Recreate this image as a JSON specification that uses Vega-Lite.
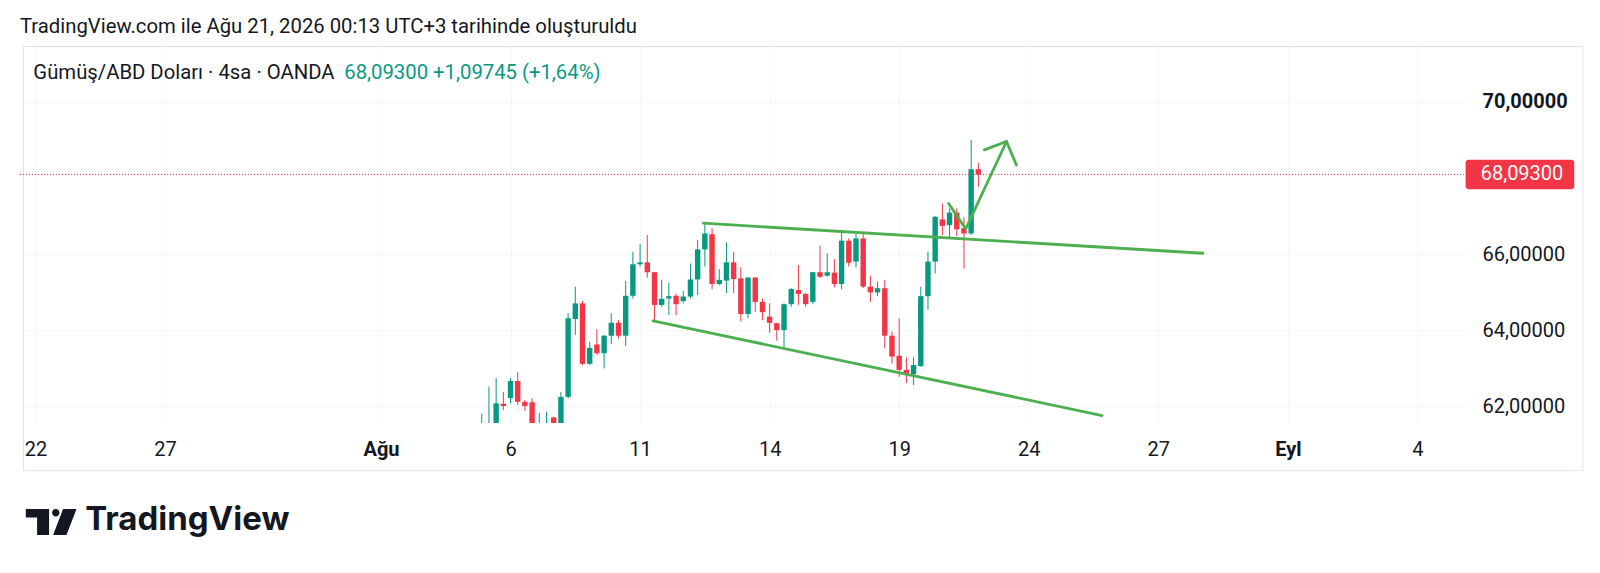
{
  "$schema": "https://vega.github.io/schema/vega-lite/v6.json",
  "autosize": {"type": "none"},
  "padding": {"left": 19, "top": 47, "right": 133, "bottom": 150},
  "width": 1448,
  "height": 376,
  "background": "white",
  "view": {"stroke": null},
  "title": {
    "text": "TradingView.com ile Ağu 21, 2026 00:13 UTC+3 tarihinde oluşturuldu",
    "anchor": "start",
    "frame": "group",
    "font": "Roboto",
    "fontSize": 20.3,
    "fontWeight": "normal",
    "color": "#131722",
    "baseline": "alphabetic",
    "offset": 14,
    "dx": 1,
    "dy": 21
  },
  "config": {
    "font": "Roboto",
    "axis": {"labelFont": "Roboto", "labelColor": "#131722", "labelFontSize": 20}
  },
  "datasets": {
    "candles": [
      {"c": 62, "o": 61.20, "h": 61.80, "l": 61.00, "cl": 61.45},
      {"c": 63, "o": 61.10, "h": 62.51, "l": 61.00, "cl": 61.45},
      {"c": 64, "o": 61.45, "h": 62.74, "l": 61.30, "cl": 62.07},
      {"c": 65, "o": 62.06, "h": 62.37, "l": 61.89, "cl": 62.00},
      {"c": 66, "o": 62.21, "h": 62.74, "l": 62.07, "cl": 62.66},
      {"c": 67, "o": 62.66, "h": 62.89, "l": 62.03, "cl": 62.11},
      {"c": 68, "o": 62.11, "h": 62.16, "l": 61.87, "cl": 62.00},
      {"c": 69, "o": 62.10, "h": 62.20, "l": 61.20, "cl": 61.30},
      {"c": 70, "o": 61.30, "h": 61.82, "l": 61.20, "cl": 61.50},
      {"c": 71, "o": 61.35, "h": 61.85, "l": 61.20, "cl": 61.50},
      {"c": 72, "o": 61.70, "h": 61.72, "l": 61.20, "cl": 61.35},
      {"c": 73, "o": 61.40, "h": 62.37, "l": 61.30, "cl": 62.24},
      {"c": 74, "o": 62.24, "h": 64.44, "l": 62.20, "cl": 64.31},
      {"c": 75, "o": 64.29, "h": 65.14, "l": 63.87, "cl": 64.70},
      {"c": 76, "o": 64.70, "h": 64.76, "l": 63.08, "cl": 63.11},
      {"c": 77, "o": 63.11, "h": 63.69, "l": 63.08, "cl": 63.53},
      {"c": 78, "o": 63.62, "h": 64.02, "l": 63.34, "cl": 63.39},
      {"c": 79, "o": 63.39, "h": 63.87, "l": 62.99, "cl": 63.85},
      {"c": 80, "o": 63.85, "h": 64.44, "l": 63.63, "cl": 64.19},
      {"c": 81, "o": 64.19, "h": 64.26, "l": 63.78, "cl": 63.85},
      {"c": 82, "o": 63.85, "h": 65.29, "l": 63.58, "cl": 64.90},
      {"c": 83, "o": 64.90, "h": 66.06, "l": 64.83, "cl": 65.73},
      {"c": 84, "o": 65.73, "h": 66.26, "l": 65.67, "cl": 65.78},
      {"c": 85, "o": 65.78, "h": 66.50, "l": 65.38, "cl": 65.52},
      {"c": 86, "o": 65.52, "h": 65.53, "l": 64.25, "cl": 64.66},
      {"c": 87, "o": 64.66, "h": 65.32, "l": 64.61, "cl": 64.82},
      {"c": 88, "o": 64.83, "h": 65.24, "l": 64.39, "cl": 64.89},
      {"c": 89, "o": 64.90, "h": 64.95, "l": 64.39, "cl": 64.68},
      {"c": 90, "o": 64.76, "h": 65.03, "l": 64.70, "cl": 64.88},
      {"c": 91, "o": 64.88, "h": 65.75, "l": 64.83, "cl": 65.33},
      {"c": 92, "o": 65.33, "h": 66.37, "l": 64.92, "cl": 66.12},
      {"c": 93, "o": 66.12, "h": 66.81, "l": 65.67, "cl": 66.54},
      {"c": 94, "o": 66.52, "h": 66.68, "l": 65.07, "cl": 65.21},
      {"c": 95, "o": 65.21, "h": 65.60, "l": 65.18, "cl": 65.32},
      {"c": 96, "o": 65.30, "h": 66.31, "l": 64.97, "cl": 65.78},
      {"c": 97, "o": 65.78, "h": 66.06, "l": 64.97, "cl": 65.34},
      {"c": 98, "o": 65.36, "h": 65.65, "l": 64.22, "cl": 64.42},
      {"c": 99, "o": 64.42, "h": 65.39, "l": 64.31, "cl": 65.38},
      {"c": 100, "o": 65.38, "h": 65.40, "l": 64.48, "cl": 64.74},
      {"c": 101, "o": 64.74, "h": 64.83, "l": 64.26, "cl": 64.47},
      {"c": 102, "o": 64.35, "h": 64.70, "l": 63.93, "cl": 64.19},
      {"c": 103, "o": 64.18, "h": 64.19, "l": 63.72, "cl": 64.00},
      {"c": 104, "o": 64.00, "h": 64.70, "l": 63.53, "cl": 64.68},
      {"c": 105, "o": 64.68, "h": 65.10, "l": 64.61, "cl": 65.08},
      {"c": 106, "o": 65.05, "h": 65.71, "l": 64.66, "cl": 64.95},
      {"c": 107, "o": 64.95, "h": 64.97, "l": 64.61, "cl": 64.68},
      {"c": 108, "o": 64.74, "h": 65.53, "l": 64.68, "cl": 65.52},
      {"c": 109, "o": 65.52, "h": 66.22, "l": 65.37, "cl": 65.40},
      {"c": 110, "o": 65.43, "h": 66.02, "l": 65.40, "cl": 65.52},
      {"c": 111, "o": 65.51, "h": 65.86, "l": 65.12, "cl": 65.21},
      {"c": 112, "o": 65.21, "h": 66.56, "l": 65.07, "cl": 66.35},
      {"c": 113, "o": 66.35, "h": 66.41, "l": 65.67, "cl": 65.77},
      {"c": 114, "o": 65.80, "h": 66.53, "l": 65.65, "cl": 66.41},
      {"c": 115, "o": 66.41, "h": 66.54, "l": 65.10, "cl": 65.14},
      {"c": 116, "o": 65.14, "h": 65.43, "l": 64.74, "cl": 64.99},
      {"c": 117, "o": 64.99, "h": 65.27, "l": 64.89, "cl": 65.10},
      {"c": 118, "o": 65.10, "h": 65.32, "l": 63.52, "cl": 63.85},
      {"c": 119, "o": 63.85, "h": 63.96, "l": 63.12, "cl": 63.30},
      {"c": 120, "o": 63.32, "h": 64.31, "l": 62.77, "cl": 62.95},
      {"c": 121, "o": 62.95, "h": 63.28, "l": 62.60, "cl": 62.84},
      {"c": 122, "o": 62.84, "h": 63.28, "l": 62.55, "cl": 63.08},
      {"c": 123, "o": 63.05, "h": 65.14, "l": 63.03, "cl": 64.89},
      {"c": 124, "o": 64.89, "h": 66.06, "l": 64.53, "cl": 65.80},
      {"c": 125, "o": 65.80, "h": 67.00, "l": 65.49, "cl": 66.98},
      {"c": 126, "o": 66.91, "h": 67.33, "l": 66.50, "cl": 66.74},
      {"c": 127, "o": 66.76, "h": 67.20, "l": 66.41, "cl": 67.09},
      {"c": 128, "o": 67.09, "h": 67.20, "l": 66.47, "cl": 66.65},
      {"c": 129, "o": 66.68, "h": 66.97, "l": 65.62, "cl": 66.54},
      {"c": 130, "o": 66.54, "h": 69.00, "l": 66.50, "cl": 68.23},
      {"c": 131, "o": 68.23, "h": 68.40, "l": 67.77, "cl": 68.093}
    ],
    "lines": [
      {"id": "upper", "o": 1, "c": 92.8, "v": 66.81},
      {"id": "upper", "o": 2, "c": 162.2, "v": 66.02},
      {"id": "lower", "o": 1, "c": 85.8, "v": 64.24},
      {"id": "lower", "o": 2, "c": 148.2, "v": 61.75},
      {"id": "shaft", "o": 1, "c": 126.87, "v": 67.33},
      {"id": "shaft", "o": 2, "c": 129.25, "v": 66.66},
      {"id": "shaft", "o": 3, "c": 134.91, "v": 68.96},
      {"id": "head", "o": 1, "c": 131.83, "v": 68.74},
      {"id": "head", "o": 2, "c": 134.91, "v": 68.96},
      {"id": "head", "o": 3, "c": 136.29, "v": 68.34}
    ]
  },
  "layer": [
    {
      "data": {"values": [{"k": 1}]},
      "mark": {"type": "rect", "filled": false, "stroke": "#e0e3eb", "strokeWidth": 1, "clip": false},
      "encoding": {
        "x": {"datum": -1.67, "type": "quantitative", "scale": {"domain": [-1.6, 198.2]}},
        "x2": {"datum": 215.0},
        "y": {"datum": 71.46, "type": "quantitative", "scale": {"domain": [61.553, 71.447]}},
        "y2": {"datum": 60.30}
      }
    },
    {
      "data": {"name": "candles"},
      "mark": {"type": "rule", "strokeWidth": 1, "clip": true},
      "encoding": {
        "x": {
          "field": "c",
          "type": "quantitative",
          "scale": {"domain": [-1.6, 198.2]},
          "axis": {
            "values": [0, 18, 48, 66, 84, 102, 120, 138, 156, 174, 192],
            "labelExpr": "{'0': '22', '18': '27', '48': 'Ağu', '66': '6', '84': '11', '102': '14', '120': '19', '138': '24', '156': '27', '174': 'Eyl', '192': '4'}[datum.value]",
            "labelFontWeight": {"condition": {"test": "datum.value == 48 || datum.value == 174", "value": "bold"}, "value": "normal"},
            "grid": true,
            "gridDash": [1, 3],
            "gridColor": "#d9dce3",
            "domain": false,
            "ticks": false,
            "tickSize": 0,
            "labelPadding": 26,
            "labelBaseline": "middle",
            "labelFlush": false,
            "labelOverlap": false,
            "title": null
          }
        },
        "y": {
          "field": "l",
          "type": "quantitative",
          "scale": {"domain": [61.553, 71.447]},
          "axis": {
            "orient": "right",
            "values": [62, 64, 66, 70],
            "labelExpr": "replace(format(datum.value, '.5f'), '.', ',')",
            "labelFontWeight": {"condition": {"test": "datum.value == 70", "value": "bold"}, "value": "normal"},
            "labelAlign": "left",
            "labelPadding": 15,
            "grid": true,
            "gridDash": [1, 3],
            "gridColor": "#d9dce3",
            "domain": false,
            "ticks": false,
            "tickSize": 0,
            "title": null
          }
        },
        "y2": {"field": "h"},
        "color": {"condition": {"test": "datum.cl >= datum.o", "value": "#089981"}, "value": "#F23645"}
      }
    },
    {
      "data": {"name": "candles"},
      "mark": {"type": "bar", "width": 5.4, "clip": true},
      "encoding": {
        "x": {"field": "c", "type": "quantitative", "scale": {"domain": [-1.6, 198.2]}},
        "y": {"field": "o", "type": "quantitative", "scale": {"domain": [61.553, 71.447]}},
        "y2": {"field": "cl"},
        "color": {"condition": {"test": "datum.cl >= datum.o", "value": "#089981"}, "value": "#F23645"}
      }
    },
    {
      "data": {"values": [{"p": 68.093}]},
      "mark": {"type": "rule", "color": "#F23645", "strokeWidth": 1, "strokeDash": [1, 2]},
      "encoding": {
        "y": {"field": "p", "type": "quantitative", "scale": {"domain": [61.553, 71.447]}}
      }
    },
    {
      "data": {"name": "lines"},
      "mark": {"type": "line", "color": "#4caf50", "strokeWidth": 2.8, "strokeCap": "round", "strokeJoin": "round", "clip": true},
      "encoding": {
        "x": {"field": "c", "type": "quantitative", "scale": {"domain": [-1.6, 198.2]}},
        "y": {"field": "v", "type": "quantitative", "scale": {"domain": [61.553, 71.447]}},
        "detail": {"field": "id"},
        "order": {"field": "o"}
      }
    },
    {
      "data": {"values": [{"t": "Gümüş/ABD Doları · 4sa · OANDA", "x": -0.3, "y": 70.763, "g": "a"}, {"t": "68,09300  +1,09745 (+1,64%)", "x": 42.9, "y": 70.763, "g": "b"}]},
      "mark": {"type": "text", "align": "left", "baseline": "middle", "fontSize": 20.3, "font": "Roboto"},
      "encoding": {
        "x": {"field": "x", "type": "quantitative", "scale": {"domain": [-1.6, 198.2]}},
        "y": {"field": "y", "type": "quantitative", "scale": {"domain": [61.553, 71.447]}},
        "text": {"field": "t"},
        "color": {"condition": {"test": "datum.g == 'b'", "value": "#089981"}, "value": "#131722"}
      }
    },
    {
      "data": {"values": [{"k": 1}]},
      "mark": {"type": "rect", "fill": "#F23645", "cornerRadius": 3, "clip": false},
      "encoding": {
        "x": {"datum": 198.7, "type": "quantitative", "scale": {"domain": [-1.6, 198.2]}},
        "x2": {"datum": 213.8},
        "y": {"datum": 68.483, "type": "quantitative", "scale": {"domain": [61.553, 71.447]}},
        "y2": {"datum": 67.703}
      }
    },
    {
      "data": {"values": [{"p": 68.093, "t": "68,09300"}]},
      "mark": {"type": "text", "align": "left", "baseline": "middle", "fontSize": 20, "font": "Roboto", "color": "white", "clip": false},
      "encoding": {
        "x": {"datum": 200.8, "type": "quantitative", "scale": {"domain": [-1.6, 198.2]}},
        "y": {"field": "p", "type": "quantitative", "scale": {"domain": [61.553, 71.447]}},
        "text": {"field": "t"}
      }
    },
    {
      "data": {"values": [{"k": 1}]},
      "mark": {
        "type": "point",
        "shape": "M-0.988,-0.518L-0.075,-0.518L-0.075,0.502L-0.545,0.502L-0.545,-0.192L-0.988,-0.192Z M0.043,-0.373A0.145,0.145 0 1,0 0.333,-0.373A0.145,0.145 0 1,0 0.043,-0.373Z M0.475,-0.518L1,-0.518L0.608,0.502L0.082,0.502Z",
        "size": 2601,
        "filled": true,
        "opacity": 1,
        "strokeWidth": 0,
        "color": "#131722",
        "clip": false
      },
      "encoding": {
        "x": {"datum": 2.15, "type": "quantitative", "scale": {"domain": [-1.6, 198.2]}},
        "y": {"datum": 58.94, "type": "quantitative", "scale": {"domain": [61.553, 71.447]}}
      }
    },
    {
      "data": {"values": [{"t": "TradingView"}]},
      "mark": {"type": "text", "align": "left", "baseline": "middle", "fontSize": 33, "font": "Inter", "fontWeight": 700, "color": "#131722", "clip": false},
      "encoding": {
        "x": {"datum": 6.9, "type": "quantitative", "scale": {"domain": [-1.6, 198.2]}},
        "y": {"datum": 59.0, "type": "quantitative", "scale": {"domain": [61.553, 71.447]}},
        "text": {"field": "t"}
      }
    }
  ]
}
